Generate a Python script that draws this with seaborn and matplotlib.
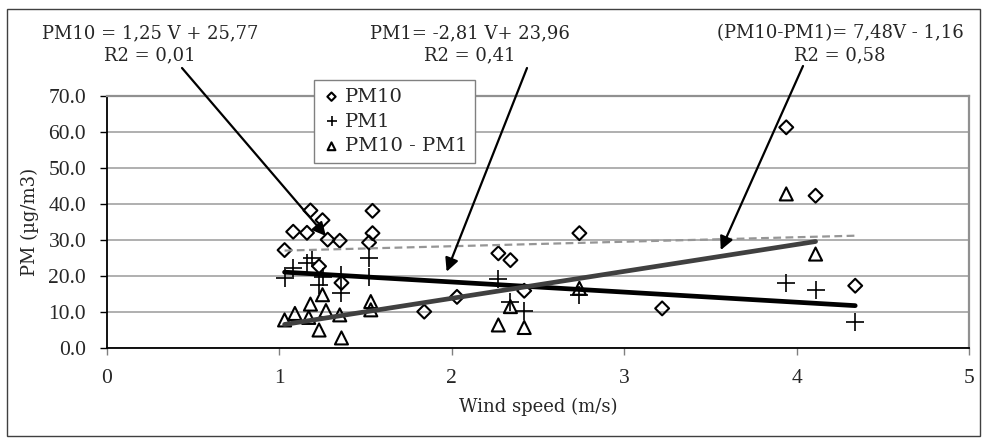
import numpy as np
import matplotlib
matplotlib.use("Agg")
import matplotlib.pyplot as plt
import seaborn as sns
from matplotlib.patches import Rectangle

# values
pm10_v = [1.03, 1.08, 1.16, 1.18, 1.23, 1.25, 1.28, 1.35, 1.36, 1.52, 1.54, 1.54,
          1.84, 2.03, 2.27, 2.34, 2.42, 2.74, 3.22, 3.94, 4.11, 4.34]
pm10 = [27.2, 32.3, 32.0, 38.2, 22.7, 35.5, 30.1, 29.8, 18.1, 29.3, 31.9, 38.1,
        10.1, 14.2, 26.3, 24.4, 15.9, 31.9, 11.0, 61.3, 42.3, 17.3]

pm1_v = [1.03, 1.08, 1.16, 1.19, 1.23, 1.25, 1.36, 1.36, 1.52, 1.52,
         2.27, 2.34, 2.42, 2.74, 3.94, 4.11, 4.34]
pm1 = [19.4, 22.3, 23.5, 24.9, 17.5, 19.8, 20.3, 15.2, 24.9, 19.8,
       19.1, 12.9, 10.4, 14.7, 18.1, 16.1, 7.2]

diff_v = [1.03, 1.09, 1.17, 1.18, 1.23, 1.25, 1.27, 1.35, 1.36, 1.53, 1.53,
          2.27, 2.34, 2.42, 2.74, 3.94, 4.11]
diff = [7.8, 9.6, 8.5, 12.2, 5.0, 14.8, 10.4, 9.2, 2.8, 12.9, 10.6,
        6.4, 11.5, 5.7, 16.6, 42.8, 26.1]

# linear trends as given in the chart text
trend_slope = [1.25, -2.81, 7.48]
trend_icpt = [25.77, 23.96, -1.16]
eq_text = ["PM10 = 1,25 V + 25,77", "PM1= -2,81 V+ 23,96", "(PM10-PM1)= 7,48V - 1,16"]
r2_text = ["R2 = 0,01", "R2 = 0,41", "R2 = 0,58"]

sns.set_style("white")
plt.rcParams['font.family'] = ['DejaVu Serif']

W, H = 988, 441
fig = plt.figure(figsize=(W / 100, H / 100), dpi=100)
ax = fig.add_axes([107 / W, (H - 348) / H, (969 - 107) / W, (348 - 96) / H])

sns.scatterplot(x=pm10_v, y=pm10, marker='D', s=50, facecolor='none', edgecolor='black',
                linewidth=1.5, label='PM10', ax=ax, zorder=3)
sns.scatterplot(x=pm1_v, y=pm1, marker='+', s=170, color='black',
                linewidth=1.2, label='PM1', ax=ax, zorder=3)
sns.scatterplot(x=diff_v, y=diff, marker='^', s=88, facecolor='none', edgecolor='black',
                linewidth=1.5, label='PM10 - PM1', ax=ax, zorder=3)

# trend lines over each series' range
styles = [dict(color='#969696', lw=1.6, linestyle=(0, (3.5, 2))),
          dict(color='black', lw=3.4, solid_capstyle='round'),
          dict(color='#404040', lw=3.4, solid_capstyle='round')]
for xs, k, b, st in zip([pm10_v, pm1_v, diff_v], trend_slope, trend_icpt, styles):
    xx = np.array([min(xs), max(xs)])
    sns.lineplot(x=xx, y=k * xx + b, ax=ax, zorder=4, **st)

ax.set_xlim(0, 5)
ax.set_ylim(0, 70)
ax.set_xticks(range(6))
ax.set_yticks(range(0, 71, 10))
ax.set_yticklabels([f"{v:.1f}" for v in range(0, 71, 10)])
for lab in ax.get_xticklabels() + ax.get_yticklabels():
    lab.set_family('Liberation Serif')
    lab.set_fontsize(15.5)
ax.tick_params(axis='y', direction='out', length=5, width=1, color='black', pad=10, left=True)
ax.tick_params(axis='x', direction='out', length=5, width=1, color='#808080', pad=10, bottom=True)
ax.yaxis.grid(True, color='#9a9a9a', lw=1.1)
ax.set_axisbelow(True)
for s in ['left', 'bottom']:
    ax.spines[s].set_color('black')
    ax.spines[s].set_linewidth(1.3)
for s in ['top', 'right']:
    ax.spines[s].set_color('#909090')
    ax.spines[s].set_linewidth(1.6)

ax.set_xlabel("Wind speed (m/s)", fontsize=13)
ax.xaxis.set_label_coords(0.5, (348 - 407) / 252)
ax.xaxis.label.set_va('center')
ax.set_ylabel("PM (µg/m3)", fontsize=13)
ax.yaxis.set_label_coords((30 - 107) / 862, 0.5)
ax.yaxis.label.set_va('center')

ax.legend(loc='upper left', bbox_to_anchor=(314 / W, 1 - 80 / H), bbox_transform=fig.transFigure,
          frameon=True, fancybox=False, edgecolor='#808080', framealpha=1, borderaxespad=0,
          fontsize=14, markerscale=0.6, handletextpad=0.2, handlelength=1.0,
          labelspacing=0.35, borderpad=0.4)

# equation labels with arrows pointing to the trend lines
text_x = [150, 470, 840]
arrow_start = [(182, 68), (527, 68), (803, 66)]
arrow_tip = [(1.27, 31.1), (1.97, 21.2), (3.56, 27.2)]
for tx, eq, r2, st, tip in zip(text_x, eq_text, r2_text, arrow_start, arrow_tip):
    fig.text(tx / W, 1 - 33 / H, eq, ha='center', va='center', fontsize=13)
    fig.text(tx / W, 1 - 55 / H, r2, ha='center', va='center', fontsize=13)
    ax.annotate('', xy=tip, xycoords='data', xytext=(st[0], H - st[1]),
                textcoords='figure pixels',
                arrowprops=dict(arrowstyle='-|>', color='black', lw=1.6,
                                mutation_scale=20, shrinkA=0, shrinkB=0), zorder=6)

fig.patches.append(Rectangle((7 / W, 5 / H), (980 - 7) / W, (432 - 5) / H,
                             transform=fig.transFigure, fill=False, ec='#404040', lw=1))

fig.savefig("out.png", dpi=100)
